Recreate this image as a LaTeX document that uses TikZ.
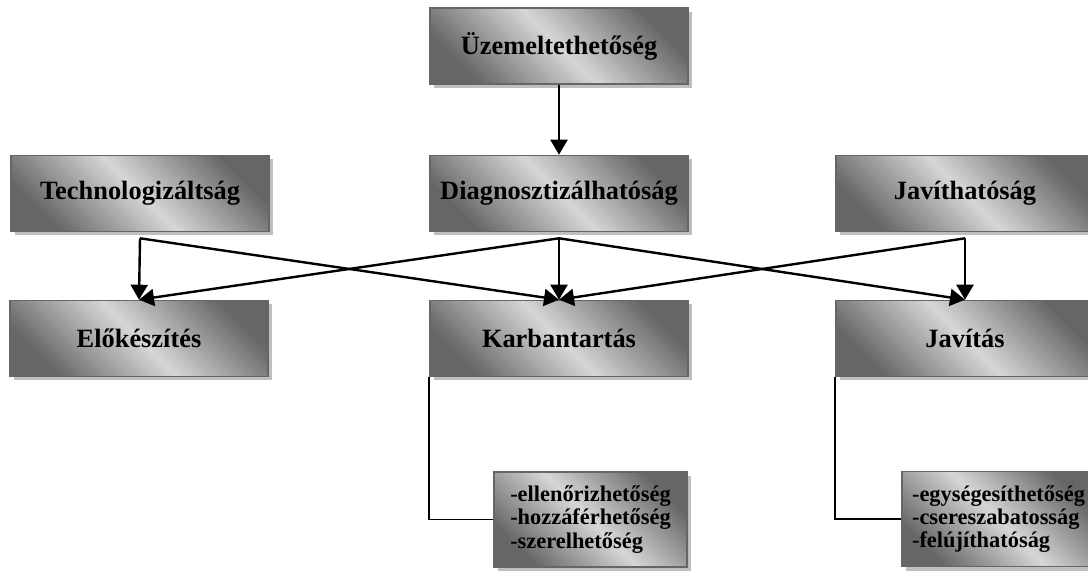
\documentclass[tikz,border=0pt]{standalone}
\usepackage{fontspec}
\setmainfont{Liberation Serif}
\usepackage{tikz}
\usetikzlibrary{arrows.meta, shadows}

\begin{document}
\begin{tikzpicture}[
    x=0.5pt, y=-0.5pt,
    ->, >={Triangle[length=7.5pt, width=8.5pt]},
    box/.style={rectangle, draw=black!60, line width=0.8pt,
        minimum width=129pt, minimum height=38pt, inner sep=0pt,
        top color=black!60, bottom color=black!60, middle color=black!16,
        shading angle=-45,
        general shadow={fill=black!25, shadow xshift=2pt, shadow yshift=-2pt},
        font=\bfseries\fontsize{13.2}{15}\selectfont},
    list box/.style={box, minimum width=96.5pt, minimum height=47.5pt,
        align=left, font=\bfseries\fontsize{11.2}{11.6}\selectfont},
    line width=1.2pt, draw=black
]
\useasboundingbox (0,0) rectangle (1088,572);

\node[box] (uzem) at (559,46) {Üzemeltethetőség};

\node[box] (tech) at (140,193.5) {Technologizáltság};
\node[box] (diag) at (559,193.5) {Diagnosztizálhatóság};
\node[box] (javh) at (965,193.5) {Javíthatóság};

\node[box] (elo) at (139,338.5) {Előkészítés};
\node[box] (karb) at (559,338.5) {Karbantartás};
\node[box] (javit) at (965,338.5) {Javítás};

\node[list box] (lista1) at (590.5,519.5) {-ellenőrizhetőség\\-hozzáférhetőség\\-szerelhetőség};
\node[list box] (lista2) at (998.5,519) {-egységesíthetőség\\-csereszabatosság\\-felújíthatóság};

\draw (uzem.south) -- (diag.north);

\draw ([yshift=-3pt]tech.south) -- (elo.north);
\draw ([yshift=-3pt]tech.south) -- (karb.north);
\draw ([yshift=-3pt]diag.south) -- (elo.north);
\draw ([yshift=-3pt]diag.south) -- (karb.north);
\draw ([yshift=-3pt]diag.south) -- (javit.north);
\draw ([yshift=-3pt]javh.south) -- (karb.north);
\draw ([yshift=-3pt]javh.south) -- (javit.north);

\draw[-, line width=0.8pt] (karb.south west) |- (lista1.west);
\draw[-, line width=0.8pt] (javit.south west) |- (lista2.west);
\end{tikzpicture}
\end{document}
